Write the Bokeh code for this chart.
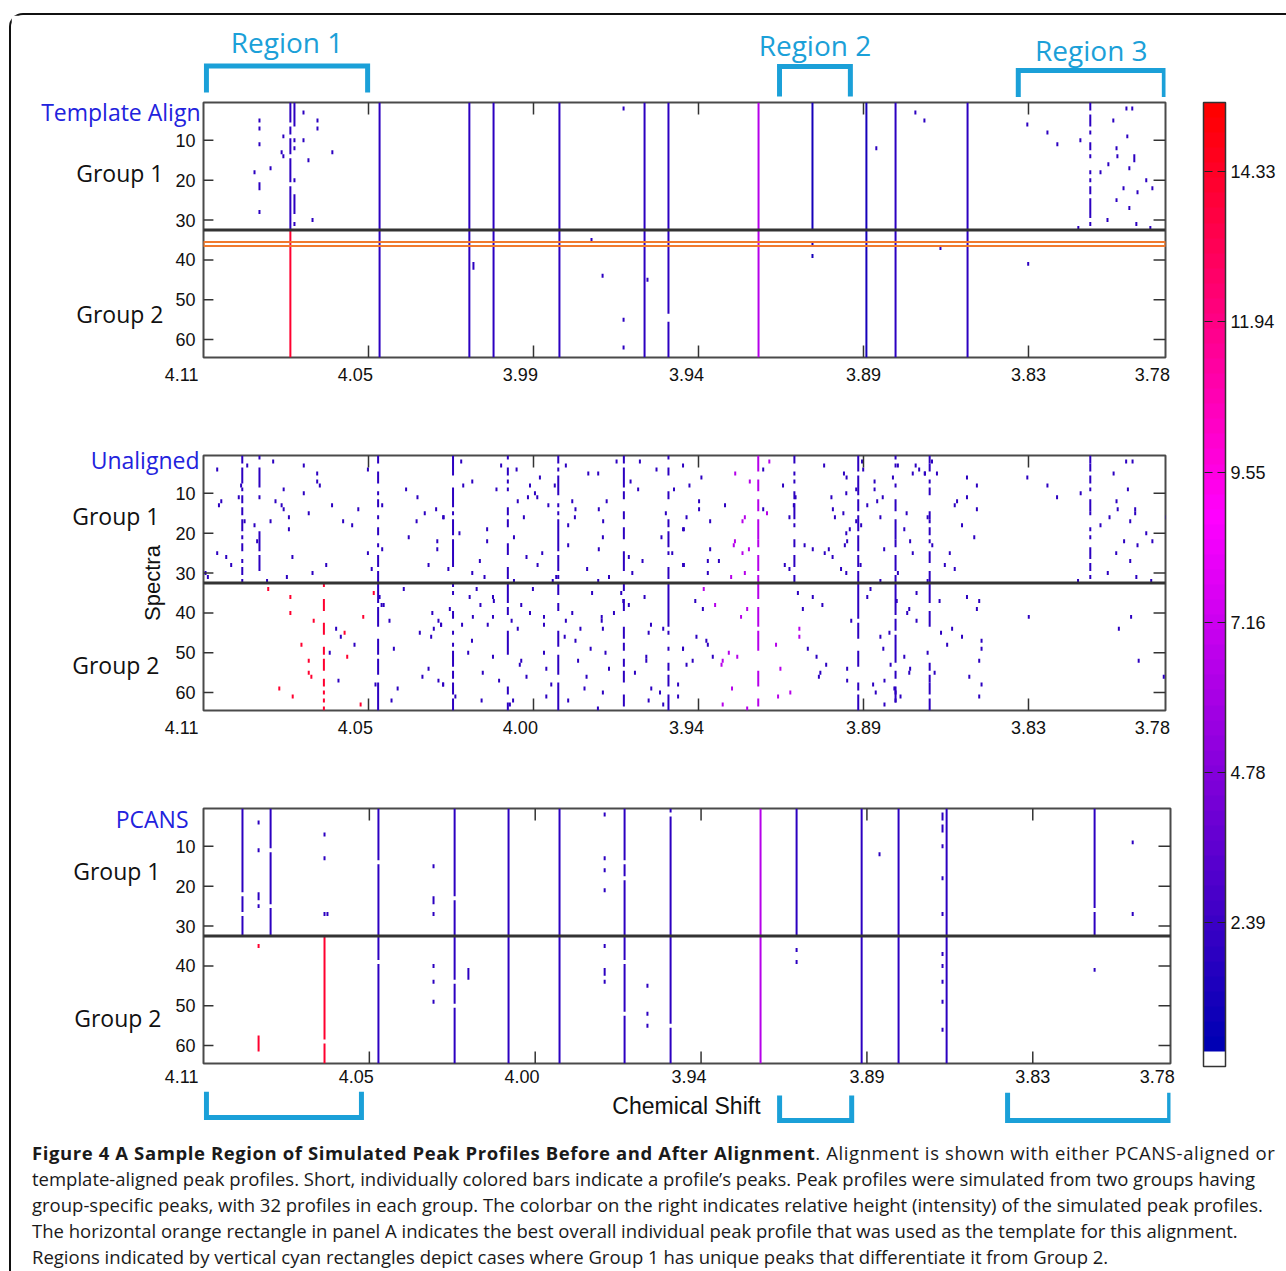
import math
from bokeh.plotting import figure
from bokeh.models import (Range1d, FixedTicker, LinearColorMapper, ColorBar, Span,
                          BoxAnnotation, ColumnDataSource, Div, Plot)
from bokeh.layouts import column, row
from bokeh.transform import transform
from bokeh.core.properties import value
from bokeh.embed import file_html
from bokeh.resources import INLINE

# ------------------------------------------------------------------ data
X_START, X_END = 4.11, 3.78           # chemical shift (ppm), reversed axis
N_ROWS = 64                            # 2 groups x 32 simulated profiles
GROUP_BOUNDARY = 32.5
TEMPLATE_ROW = 36

tick_marks_ppm = [4.0534, 3.9968, 3.9402, 3.8836, 3.8270]
tick_label_ppm = [4.11, 4.0579, 4.0013, 3.9443, 3.8836, 3.8270, 3.7845]
tick_labels_a = ["4.11", "4.05", "3.99", "3.94", "3.89", "3.83", "3.78"]
tick_labels_bc = ["4.11", "4.05", "4.00", "3.94", "3.89", "3.83", "3.78"]
row_ticks = [10, 20, 30, 40, 50, 60]

cbar_ticks = [2.39, 4.78, 7.16, 9.55, 11.94, 14.33]
cbar_low, cbar_high = 0.10, 15.43

region_names = ["Region 1", "Region 2", "Region 3"]
region_top_bounds = [(4.109, 4.0537), (3.9124, 3.8881), (3.8305, 3.7804)]
region_bottom_bounds = [(4.109, 4.0561), (3.9134, 3.8888), (3.8356, 3.7803)]

# peak profiles: (ppm, peak height, [(first row, last row), ...])
template_peaks = [
    (4.0802, 2.0, [(1, 5), (7, 8), (10, 13), (15, 20), (22, 32)]),
    (4.0788, 2.0, [(1, 6), (10, 10), (12, 12), (20, 20), (24, 28), (31, 31)]),
    (4.0802, 14.0, [(33, 64)]),
    (4.0496, 2.0, [(1, 64)]),
    (4.0188, 2.0, [(1, 64)]),
    (4.0174, 2.0, [(41, 42)]),
    (4.0105, 2.0, [(1, 64)]),
    (3.9879, 2.0, [(1, 64)]),
    (3.9587, 2.0, [(1, 64)]),
    (3.9505, 2.0, [(1, 53), (56, 64)]),
    (3.9196, 6.5, [(1, 64)]),
    (3.9011, 1.2, [(1, 32), (36, 36), (39, 39)]),
    (3.8826, 1.2, [(1, 64)]),
    (3.8726, 2.0, [(1, 64)]),
    (3.8479, 2.0, [(1, 64)]),
    (3.8058, 2.0, [(1, 2), (4, 6), (8, 8), (11, 12), (14, 14), (18, 18), (20, 20), (22, 23), (25, 29), (31, 31)]),
    (4.0908, 2.0, [(5, 5), (7, 7), (11, 11), (21, 22), (28, 28)]),
    (4.0925, 2.0, [(18, 18)]), (4.0870, 2.0, [(17, 17)]), (4.0832, 2.0, [(13, 13)]),
    (4.0826, 2.0, [(9, 9), (14, 14)]), (4.0757, 2.0, [(3, 3), (10, 10)]), (4.0740, 2.0, [(15, 15)]),
    (4.0709, 2.0, [(5, 5), (7, 7)]), (4.0658, 2.0, [(13, 13)]), (4.0726, 2.0, [(30, 30)]),
    (3.9769, 2.0, [(35, 35)]), (3.9731, 2.0, [(44, 44)]), (3.9659, 2.0, [(2, 2), (55, 55), (62, 62)]),
    (3.9577, 2.0, [(45, 45)]), (3.8658, 2.0, [(3, 3)]), (3.8627, 2.0, [(5, 5)]),
    (3.8792, 2.0, [(12, 12)]), (3.8572, 2.0, [(37, 37)]), (3.8274, 2.0, [(6, 6)]),
    (3.8271, 2.0, [(41, 41)]), (3.8205, 2.0, [(8, 8)]), (3.8171, 2.0, [(11, 11)]),
    (3.8092, 2.0, [(10, 10)]), (3.8099, 2.0, [(32, 32)]), (3.8023, 2.0, [(18, 18)]),
    (3.7996, 2.0, [(16, 16)]), (3.7999, 2.0, [(30, 30)]), (3.7979, 2.0, [(5, 5)]),
    (3.7968, 2.0, [(12, 12), (25, 25)]), (3.7965, 2.0, [(14, 14)]), (3.7944, 2.0, [(22, 22)]),
    (3.7934, 2.0, [(2, 2)]), (3.7914, 2.0, [(2, 2)]), (3.7931, 2.0, [(9, 9)]),
    (3.7924, 2.0, [(17, 17), (27, 27)]), (3.7907, 2.0, [(14, 15)]), (3.7900, 2.0, [(31, 31)]),
    (3.7896, 2.0, [(23, 23)]), (3.7866, 2.0, [(20, 20)]), (3.7845, 2.0, [(22, 22)]),
    (3.7852, 2.0, [(32, 32)]),
]

unaligned_peaks = [
    (4.0967, 2.0, [(1, 2), (4, 7), (9, 9), (11, 12), (14, 15), (17, 19), (21, 21), (23, 24), (27, 27), (29, 30), (32, 32)]),
    (4.0908, 2.0, [(1, 1), (4, 8), (11, 11), (20, 24), (26, 29)]),
    (4.0687, 14.0, [(33, 33), (37, 39), (43, 45), (49, 50), (52, 54), (57, 58), (60, 60), (62, 62), (64, 64)]),
    (4.0501, 2.0, [(1, 2), (5, 7), (10, 10), (12, 13), (16, 16), (19, 20), (23, 23), (26, 28), (30, 32),
                   (33, 37), (39, 43), (47, 50), (52, 55), (58, 64)]),
    (4.0244, 2.0, [(1, 5), (9, 13), (15, 15), (17, 20), (22, 28), (33, 33), (35, 35), (40, 41), (45, 45),
                   (48, 48), (50, 53), (55, 56), (58, 60), (62, 64)]),
    (4.0056, 2.0, [(1, 1), (4, 5), (7, 7), (9, 9), (14, 15), (17, 18), (23, 25), (29, 31), (33, 37), (39, 40),
                   (45, 50), (59, 60), (63, 64)]),
    (3.9883, 2.0, [(1, 2), (4, 4), (6, 10), (13, 13), (15, 15), (17, 24), (26, 29), (31, 31), (33, 35), (38, 39),
                   (45, 48), (51, 55), (58, 64)]),
    (3.9658, 2.0, [(1, 2), (4, 8), (10, 11), (15, 16), (19, 21), (25, 29), (33, 34), (37, 39), (44, 46), (48, 49),
                   (52, 53), (55, 57), (61, 63)]),
    (3.9505, 2.0, [(1, 1), (4, 5), (10, 11), (17, 18), (20, 23), (25, 25), (29, 31), (33, 43), (45, 45), (49, 49),
                   (53, 54), (56, 58), (61, 64)]),
    (3.9197, 6.5, [(1, 4), (7, 9), (12, 14), (17, 21), (22, 23), (26, 29), (31, 32), (33, 36), (39, 43), (45, 49),
                   (55, 58), (62, 63)]),
    (3.9073, 2.0, [(1, 2), (5, 5), (7, 7), (10, 11), (13, 16), (18, 18), (22, 23), (26, 28), (31, 32)]),
    (3.8854, 2.0, [(1, 4), (6, 10), (12, 14), (16, 19), (21, 24), (26, 28), (30, 32), (33, 36), (37, 41), (43, 46),
                   (50, 53), (58, 59), (61, 64)]),
    (3.8726, 2.0, [(1, 1), (3, 3), (8, 8), (12, 14), (17, 21), (22, 23), (26, 29), (31, 32), (33, 37), (38, 40),
                   (42, 44), (46, 52), (55, 56), (59, 62)]),
    (3.8609, 2.0, [(1, 2), (3, 4), (7, 7), (9, 10), (15, 16), (17, 17), (19, 20), (22, 22), (25, 27), (30, 32),
                   (33, 37), (40, 43), (53, 54), (56, 57), (58, 60), (62, 64)]),
    (3.8058, 2.0, [(1, 2), (3, 4), (6, 7), (9, 9), (12, 14), (15, 15), (19, 19), (21, 21), (24, 26), (28, 29), (31, 31)]),
]

# single-profile peaks (ppm, row); heights ~2.0 (blue), ~14 (red), ~6.5 (purple)
unaligned_dots_blue = [
    (4.1053, 4), (4.0950, 3), (4.0861, 2), (4.0756, 3), (4.0710, 5), (4.0710, 7), (4.0701, 8), (4.0536, 4),
    (4.0825, 9), (4.0756, 10), (4.0971, 8), (4.0979, 11), (4.1039, 12), (4.1047, 13), (4.0853, 12), (4.0832, 13),
    (4.0825, 14), (4.0739, 15), (4.0659, 13), (4.0569, 14), (4.0807, 16), (4.0959, 17), (4.0925, 18), (4.0870, 17),
    (4.0807, 19), (4.0621, 17), (4.0590, 18), (4.1053, 25), (4.1022, 26), (4.1005, 28), (4.0795, 26), (4.0679, 28),
    (4.0726, 30), (4.0814, 31), (4.0882, 32), (4.1093, 30), (4.1085, 31), (4.0536, 25), (4.0523, 29), (4.0487, 13),
    (4.0487, 24), (4.0405, 9), (4.0366, 11), (4.0302, 14), (4.0341, 15), (4.0276, 16), (4.0369, 17), (4.0396, 21),
    (4.0298, 22), (4.0298, 24), (4.0328, 28), (4.0916, 22),
    (4.0413, 34), (4.0482, 38), (4.0462, 42), (4.0645, 44), (4.0629, 46), (4.0582, 48), (4.0667, 50), (4.0447, 49),
    (4.0637, 57), (4.0434, 59), (4.0455, 62), (4.0510, 58), (4.0315, 40), (4.0294, 42), (4.0285, 43), (4.0310, 44),
    (4.0319, 46), (4.0358, 45), (4.0328, 54), (4.0349, 56), (4.0294, 57), (4.0278, 58), (4.0496, 36), (4.0489, 38),
    (4.0216, 2), (4.0079, 3), (4.0026, 4), (3.9946, 6), (4.0209, 8), (4.0178, 7), (4.0095, 9), (3.9980, 8),
    (3.9895, 8), (3.9963, 10), (3.9955, 11), (3.9987, 11), (4.0022, 12), (3.9917, 13), (3.9835, 12), (3.9780, 5),
    (3.9746, 5), (3.9683, 2), (3.9603, 2), (3.9857, 3), (3.9546, 4), (3.9635, 7), (3.9609, 9), (3.9717, 12),
    (3.9824, 14), (3.9826, 16), (3.9744, 14), (3.9729, 17), (3.9849, 18), (3.9730, 21), (3.9744, 24), (3.9849, 23),
    (3.9514, 15), (3.9529, 21), (3.9492, 25), (3.9452, 19), (3.9486, 9), (4.0278, 16), (4.0222, 20), (4.0127, 19),
    (4.0127, 22), (4.0001, 16), (4.0035, 21), (3.9938, 25), (3.9992, 26), (3.9954, 28), (4.0152, 27), (4.0260, 29),
    (4.0178, 30), (4.0136, 31), (4.0035, 32), (3.9902, 32), (3.9890, 31), (3.9784, 29), (3.9709, 31), (3.9746, 32),
    (3.9641, 26), (3.9594, 27), (3.9629, 30), (3.9452, 28),
    (4.0163, 34), (4.0187, 36), (4.0107, 36), (4.0104, 37), (4.0150, 38), (4.0255, 39), (4.0176, 41), (4.0107, 41),
    (4.0213, 43), (4.0125, 43), (4.0043, 42), (4.0010, 38), (3.9980, 40), (3.9932, 41), (3.9932, 43), (4.0022, 44),
    (3.9970, 34), (4.0285, 43), (4.0179, 47), (4.0192, 50), (4.0107, 51), (4.0010, 52), (4.0015, 53), (4.0142, 55),
    (4.0086, 57), (3.9992, 56), (3.9924, 54), (3.9932, 50), (4.0278, 58), (4.0236, 61), (4.0146, 62), (4.0038, 62),
    (4.0049, 63), (3.9924, 61), (3.9907, 58), (3.9849, 62), (3.9767, 35), (3.9835, 40), (3.9857, 42), (3.9807, 44),
    (3.9734, 41), (3.9734, 42), (3.9692, 40), (3.9730, 44), (3.9861, 46), (3.9824, 47), (3.9772, 49), (3.9721, 50),
    (3.9815, 52), (3.9709, 54), (3.9786, 56), (3.9793, 59), (3.9730, 60), (3.9747, 64), (3.9667, 35), (3.9660, 37),
    (3.9641, 38), (3.9587, 36), (3.9565, 43), (3.9573, 45), (3.9523, 44), (3.9620, 55), (3.9581, 51), (3.9581, 52),
    (3.9455, 49), (3.9564, 59), (3.9534, 60), (3.9472, 58), (3.9472, 61), (3.9573, 62), (3.9523, 63),
    (3.9455, 3), (3.9392, 6), (3.9433, 8), (3.9400, 12), (3.9400, 14), (3.9311, 13), (3.9443, 16), (3.9362, 17),
    (3.9455, 19), (3.9362, 24), (3.9370, 27), (3.9332, 27), (3.9370, 30), (3.9455, 28), (3.9180, 4), (3.9180, 14),
    (3.9112, 8), (3.9069, 11), (3.9075, 13), (3.9090, 16), (3.9038, 23), (3.9010, 24), (3.9106, 28), (3.9090, 29),
    (3.8971, 3), (3.8903, 5), (3.8894, 6), (3.8946, 11), (3.8895, 10), (3.8941, 14), (3.8934, 16), (3.8905, 15),
    (3.8861, 9), (3.8861, 17), (3.8844, 18), (3.8883, 19), (3.8895, 20), (3.8892, 22), (3.8900, 23), (3.8969, 25),
    (3.8955, 24), (3.8942, 26), (3.8913, 29), (3.8895, 30), (3.8846, 28), (3.8841, 2), (3.8837, 4), (3.8798, 7),
    (3.8798, 9), (3.8823, 13), (3.8789, 12), (3.8770, 11), (3.8778, 16), (3.8765, 24), (3.8778, 32), (3.8735, 6),
    (3.8718, 3), (3.8718, 30), (3.8688, 15), (3.8696, 19), (3.8676, 22), (3.8667, 25), (3.8667, 5), (3.8645, 4),
    (3.8657, 3), (3.8625, 5),
    (3.9413, 37), (3.9387, 39), (3.9409, 46), (3.9375, 47), (3.9370, 48), (3.9455, 49), (3.9443, 53), (3.9422, 52),
    (3.9353, 51), (3.9061, 35), (3.9010, 36), (3.8977, 38), (3.9044, 39), (3.8878, 42), (3.9027, 49), (3.8997, 51),
    (3.8964, 53), (3.8984, 55), (3.8989, 56), (3.8892, 54), (3.8892, 57), (3.8823, 36), (3.8812, 34), (3.8778, 46),
    (3.8747, 45), (3.8768, 49), (3.8743, 53), (3.8764, 57), (3.8803, 58), (3.8794, 60), (3.8764, 63), (3.8730, 59),
    (3.8726, 60), (3.8709, 61), (3.8726, 62), (3.8722, 37), (3.8679, 39), (3.8686, 40), (3.8654, 42), (3.8654, 35),
    (3.8679, 55), (3.8676, 54), (3.8696, 51),
    (3.8626, 5), (3.8584, 5), (3.8601, 2), (3.8481, 6), (3.8447, 8), (3.8481, 11), (3.8515, 12), (3.8523, 13),
    (3.8447, 14), (3.8616, 16), (3.8498, 18), (3.8456, 21), (3.8600, 23), (3.8540, 25), (3.8557, 28), (3.8523, 29),
    (3.8616, 32), (3.8274, 6), (3.8205, 8), (3.8172, 11), (3.8091, 10), (3.8100, 32), (3.7978, 5), (3.7935, 2),
    (3.7913, 2), (3.7929, 9), (3.7968, 12), (3.7964, 14), (3.7904, 14), (3.7904, 15), (3.7992, 16), (3.8023, 18),
    (3.7921, 17), (3.7866, 20), (3.7942, 22), (3.7896, 23), (3.7845, 22), (3.7969, 25), (3.7921, 27), (3.7998, 30),
    (3.7900, 31), (3.7849, 32), (3.7797, 16),
    (3.8575, 37), (3.8481, 36), (3.8439, 37), (3.8447, 39), (3.8570, 45), (3.8532, 44), (3.8498, 46), (3.8549, 48),
    (3.8616, 50), (3.8431, 47), (3.8431, 49), (3.8439, 52), (3.8592, 55), (3.8473, 56), (3.8431, 58), (3.8439, 61),
    (3.8269, 41), (3.7960, 44), (3.7918, 41), (3.7892, 52), (3.7806, 56),
]
unaligned_dots_red = [
    (4.0878, 34), (4.0802, 36), (4.0802, 40), (4.0722, 42), (4.0552, 41), (4.0616, 45), (4.0764, 48), (4.0607, 51),
    (4.0739, 52), (4.0739, 55), (4.0730, 56), (4.0840, 59), (4.0794, 61), (4.0561, 63), (4.0516, 35),
]
unaligned_dots_purple = [
    (3.9290, 31), (3.9243, 30), (3.9276, 5), (3.9226, 7), (3.9159, 2), (3.9251, 17), (3.9243, 16), (3.9167, 15),
    (3.9277, 22), (3.9281, 23), (3.9251, 25), (3.9229, 24),
    (3.9384, 34), (3.9345, 38), (3.9235, 39), (3.9256, 41), (3.9298, 50), (3.9319, 52), (3.9323, 53), (3.9269, 51),
    (3.9136, 48), (3.9121, 54), (3.9287, 59), (3.9319, 63), (3.9235, 64), (3.9129, 61), (3.9087, 60), (3.9056, 44),
    (3.9056, 46),
]
dot_height_blue, dot_height_red, dot_height_purple = 2.0, 14.0, 6.5

pcans_peaks = [
    (4.0967, 2.0, [(1, 21), (23, 26), (28, 32)]),
    (4.0871, 2.0, [(1, 10), (12, 24), (26, 32)]),
    (4.0912, 2.0, [(4, 4), (11, 11), (22, 23), (25, 25)]),
    (4.0912, 14.0, [(35, 35), (58, 61)]),
    (4.0687, 2.0, [(7, 7), (13, 13), (27, 27)]),
    (4.0677, 2.0, [(27, 27)]),
    (4.0687, 14.0, [(33, 58), (60, 64)]),
    (4.0503, 2.0, [(1, 13), (15, 38), (40, 64)]),
    (4.0315, 2.0, [(15, 15), (23, 24), (27, 27), (40, 40), (44, 44), (49, 49)]),
    (4.0243, 2.0, [(1, 22), (24, 43), (45, 49), (51, 64)]),
    (4.0196, 2.0, [(41, 43)]),
    (4.0059, 2.0, [(1, 64)]),
    (3.9885, 2.0, [(1, 64)]),
    (3.9731, 2.0, [(2, 2), (13, 13), (16, 16), (21, 21), (35, 35), (41, 42), (44, 44)]),
    (3.9663, 2.0, [(1, 13), (15, 17), (19, 38), (40, 51), (53, 64)]),
    (3.9585, 2.0, [(45, 45), (52, 52), (55, 55)]),
    (3.9506, 2.0, [(1, 1), (3, 54), (56, 64)]),
    (3.9199, 6.5, [(1, 64)]),
    (3.9076, 2.0, [(1, 32), (36, 36), (39, 39)]),
    (3.8854, 2.0, [(1, 64)]),
    (3.8793, 2.0, [(12, 12)]),
    (3.8728, 2.0, [(1, 64)]),
    (3.8578, 2.0, [(2, 3), (5, 6), (10, 10), (18, 18), (27, 27), (37, 37), (40, 40), (44, 44), (49, 49), (56, 56)]),
    (3.8564, 2.0, [(1, 64)]),
    (3.8059, 2.0, [(1, 25), (27, 32), (41, 41)]),
    (3.7929, 2.0, [(9, 9), (27, 27)]),
]

# ------------------------------------------------------------------ styles / layout constants
HELV = "Liberation Sans"
MYR = "Open Sans"
TITLE_BLUE = "#2222dd"
CYAN = "#1ba0d8"
FRAME = "#4a4a4a"
INK = "#111111"
GUTTER_W = 190          # label column left of each panel
PANEL_W = 984
FULL_W = GUTTER_W + PANEL_W
ROW_PX = 255 / 64.0     # pixel height of one profile row
NOALIGN = {"frame_align": False} if "frame_align" in Plot.properties() else {}


def make_palette():
    cols = ["#ffffff"]
    for i in range(1, 64):
        if i <= 36:
            t = (i - 1) / 35.0
            r, b = 255 * t, 180 + 75 * t
        else:
            t = (i - 36) / 27.0
            r, b = 255, 255 * (1 - t)
        cols.append("#%02x%02x%02x" % (int(round(r)), 0, int(round(b))))
    return cols


MAPPER = LinearColorMapper(palette=make_palette(), low=cbar_low, high=cbar_high)
XR = Range1d(X_START, X_END)
YR = Range1d(N_ROWS + 0.5, 0.5)


def build_source(peaks, dot_sets=()):
    xs, y0, y1, hs = [], [], [], []
    for ppm, h, runs in peaks:
        for a, b in runs:
            xs.append(ppm); y0.append(a - 0.5); y1.append(b + 0.5); hs.append(h)
    for dots, h in dot_sets:
        for ppm, r in dots:
            xs.append(ppm); y0.append(r - 0.5); y1.append(r + 0.5); hs.append(h)
    return ColumnDataSource(dict(x=xs, y0=y0, y1=y1, h=hs))


def hide_grid(p):
    for g in p.grid:
        g.visible = False


def make_panel(peaks, dot_sets, labels, height, top, bottom, right, standoff, template=False):
    p = figure(width=PANEL_W, height=height, x_range=XR, y_range=YR,
               toolbar_location=None, output_backend="svg", y_axis_location=None,
               min_border_left=2, min_border_right=right,
               min_border_top=top, min_border_bottom=bottom,
               background_fill_color="white", border_fill_color="white", **NOALIGN)
    p.segment(x0="x", y0="y0", x1="x", y1="y1", source=build_source(peaks, dot_sets),
              line_width=2, line_color=transform("h", MAPPER))
    # inner tick marks on all four edges
    n = len(tick_marks_ppm)
    m = len(row_ticks)
    tick_style = dict(line_color="#333333", line_width=1.5)
    p.segment(x0=tick_marks_ppm, x1=tick_marks_ppm, y0=[YR.end] * n, y1=[YR.end + 3.0] * n, **tick_style)
    p.segment(x0=tick_marks_ppm, x1=tick_marks_ppm, y0=[YR.start] * n, y1=[YR.start - 3.0] * n, **tick_style)
    p.segment(x0=[XR.end] * m, x1=[XR.end + 0.0041] * m, y0=row_ticks, y1=row_ticks, **tick_style)
    p.segment(x0=[XR.start] * m, x1=[XR.start - 0.0034] * m, y0=row_ticks, y1=row_ticks, **tick_style)

    p.add_layout(Span(location=GROUP_BOUNDARY, dimension="width", line_color="#333333", line_width=3))
    if template:
        p.add_layout(BoxAnnotation(bottom=TEMPLATE_ROW + 0.5, top=TEMPLATE_ROW - 0.5,
                                   fill_color=None, fill_alpha=0,
                                   line_color="#f07a2e", line_alpha=1.0, line_width=2))
    p.outline_line_color = FRAME
    p.outline_line_width = 2
    hide_grid(p)

    xa = p.xaxis[0]
    xa.ticker = FixedTicker(ticks=tick_label_ppm[1:])
    xa.major_label_overrides = {t: s for t, s in zip(tick_label_ppm[1:], labels[1:])}
    xa.major_tick_line_color = None
    xa.minor_tick_line_color = None
    xa.axis_line_color = None
    xa.major_tick_out = 0
    xa.major_tick_in = 0
    xa.major_label_standoff = standoff
    xa.major_label_text_font = HELV
    xa.major_label_text_font_size = "18px"
    xa.major_label_text_color = INK
    return p


def make_gutter(height, top, bottom, extra_top, extra_bottom, first_label, label_drop, texts, ylabel=None):
    """Label column: row tick labels, first shift label, panel title and group names."""
    g = figure(width=GUTTER_W, height=height,
               x_range=Range1d(-FULL_W + PANEL_W - 2, -2),
               y_range=Range1d(YR.start + extra_bottom / ROW_PX, YR.end - extra_top / ROW_PX),
               toolbar_location=None, output_backend="svg",
               min_border_left=0, min_border_right=0,
               min_border_top=top - extra_top, min_border_bottom=bottom - extra_bottom,
               x_axis_location=None, y_axis_location=None, outline_line_color=None, **NOALIGN)
    hide_grid(g)
    g.text(x=[-8] * len(row_ticks), y=row_ticks, text=[str(t) for t in row_ticks],
           text_font=value(HELV), text_font_size="18px", text_color=INK,
           text_align="right", text_baseline="middle")
    g.text(x=[-5], y=[YR.start + label_drop / ROW_PX], text=[first_label],
           text_font=value(HELV), text_font_size="18px", text_color=INK,
           text_align="right", text_baseline="middle")
    for txt, x, y, color in texts:
        g.text(x=[x], y=[y], text=[txt], text_font=value(MYR), text_font_size="23px",
               text_color=color, text_align="right", text_baseline="middle")
    if ylabel:
        g.text(x=[-51], y=[(YR.start + YR.end) / 2], text=[ylabel], angle=math.pi / 2,
               text_font=value(HELV), text_font_size="22px", text_color=INK,
               text_align="center", text_baseline="middle")
    return g


# header with region brackets (above panel A)
header = figure(width=FULL_W, height=82, x_range=XR, y_range=Range1d(0, 1),
                toolbar_location=None, output_backend="svg",
                min_border_left=GUTTER_W + 2, min_border_right=20, min_border_top=0, min_border_bottom=0,
                x_axis_location=None, y_axis_location=None, outline_line_color=None, **NOALIGN)
hide_grid(header)
top_levels = [0.384, 0.378, 0.329]
top_leg_ends = [0.061, 0.012, 0.0]
header.multi_line(xs=[[a, a, b, b] for a, b in region_top_bounds],
                  ys=[[e, t, t, e] for t, e in zip(top_levels, top_leg_ends)],
                  line_color=CYAN, line_width=5, line_join="miter")
header.text(x=[(a + b) / 2 for a, b in region_top_bounds], y=[0.671, 0.646, 0.585],
            text=region_names, text_font=value(MYR), text_font_size="28px",
            text_color=CYAN, text_align="center", text_baseline="middle")

p1 = make_panel(template_peaks, (), tick_labels_a, 303, 5, 43, 20, 10, template=True)
g1 = make_gutter(303, 5, 43, 5, 30, tick_labels_a[0], 17,
                 [("Template Align", -3, 2.76, TITLE_BLUE), ("Group 1", -40, 18.1, INK),
                  ("Group 2", -40, 53.7, INK)])
p2 = make_panel(unaligned_peaks,
                ((unaligned_dots_blue, dot_height_blue), (unaligned_dots_red, dot_height_red),
                 (unaligned_dots_purple, dot_height_purple)),
                tick_labels_bc, 355, 55, 45, 20, 10)
g2 = make_gutter(355, 55, 45, 15, 30, tick_labels_bc[0], 17,
                 [("Unaligned", -4, 1.75, TITLE_BLUE), ("Group 1", -44, 15.6, INK),
                  ("Group 2", -44, 53.2, INK)], ylabel="Spectra")
p3 = make_panel(pcans_peaks, (), tick_labels_bc, 336, 53, 28, 15, 6)
g3 = make_gutter(336, 53, 28, 15, 28, tick_labels_bc[0], 13,
                 [("PCANS", -15, 3.26, TITLE_BLUE), ("Group 1", -43, 16.3, INK),
                  ("Group 2", -42, 53.0, INK)])

# footer with region brackets (below panel C) and x label
footer = figure(width=FULL_W, height=39, x_range=XR, y_range=Range1d(0, 1),
                toolbar_location=None, output_backend="svg",
                min_border_left=GUTTER_W + 2, min_border_right=15, min_border_top=0, min_border_bottom=0,
                x_axis_location=None, y_axis_location=None, outline_line_color=None, **NOALIGN)
hide_grid(footer)
bot_levels = [0.333, 0.256, 0.256]
bot_leg_ends = [1.0, 0.9, 0.97]
footer.multi_line(xs=[[a, a, b, b] for a, b in region_bottom_bounds],
                  ys=[[e, t, t, e] for t, e in zip(bot_levels, bot_leg_ends)],
                  line_color=CYAN, line_width=5, line_join="miter")
footer.text(x=[3.9452], y=[0.62], text=["Chemical Shift"], text_font=value(HELV),
            text_font_size="23px", text_color=INK, text_align="center", text_baseline="middle")

# colour bar
cbfig = figure(width=93, height=1115, x_range=Range1d(0, 1), y_range=Range1d(0, 1),
               toolbar_location=None, output_backend="svg",
               min_border_left=18, min_border_right=53, min_border_top=87, min_border_bottom=64,
               x_axis_location=None, y_axis_location=None, outline_line_color=None, **NOALIGN)
hide_grid(cbfig)
cb = ColorBar(color_mapper=MAPPER, location="top_left", orientation="vertical",
              width=22, height=964, padding=0, margin=0,
              ticker=FixedTicker(ticks=cbar_ticks),
              major_label_text_font=HELV, major_label_text_font_size="18px",
              major_label_text_color=INK,
              major_tick_in=22, major_tick_out=0, major_tick_line_color="#222222",
              major_tick_line_dash="8 5", minor_tick_line_color=None,
              bar_line_color="#333333", bar_line_width=1.5, label_standoff=5,
              background_fill_color=None, border_line_color=None)
cbfig.add_layout(cb, "center")

caption_html = (
    '<div style="font-family:\'Open Sans\'; font-size:18.5px; line-height:26px; color:#1a1a1a; '
    'white-space:nowrap; padding:5px 0 0 16px;">'
    '<span style="letter-spacing:0.6px;"><b>Figure 4 A Sample Region of Simulated Peak Profiles Before and '
    'After Alignment</b>. Alignment is shown with either PCANS-aligned or</span><br>'
    'template-aligned peak profiles. Short, individually colored bars indicate a profile\u2019s peaks. '
    'Peak profiles were simulated from two groups having<br>'
    'group-specific peaks, with 32 profiles in each group. The colorbar on the right indicates relative '
    'height (intensity) of the simulated peak profiles.<br>'
    'The horizontal orange rectangle in panel A indicates the best overall individual peak profile that '
    'was used as the template for this alignment.<br>'
    'Regions indicated by vertical cyan rectangles depict cases where Group 1 has unique peaks that '
    'differentiate it from Group 2.</div>'
)
caption = Div(text=caption_html, width=1267, height=133)

panels = column(header, row(g1, p1), row(g2, p2), row(g3, p3), footer)
layout = column(row(panels, cbfig), caption,
                styles={"border-top": "2px solid #111111", "border-left": "2px solid #111111",
                        "border-top-left-radius": "14px", "margin-top": "13px", "margin-left": "9px"})

open("out.html", "w").write(file_html(layout, INLINE))
